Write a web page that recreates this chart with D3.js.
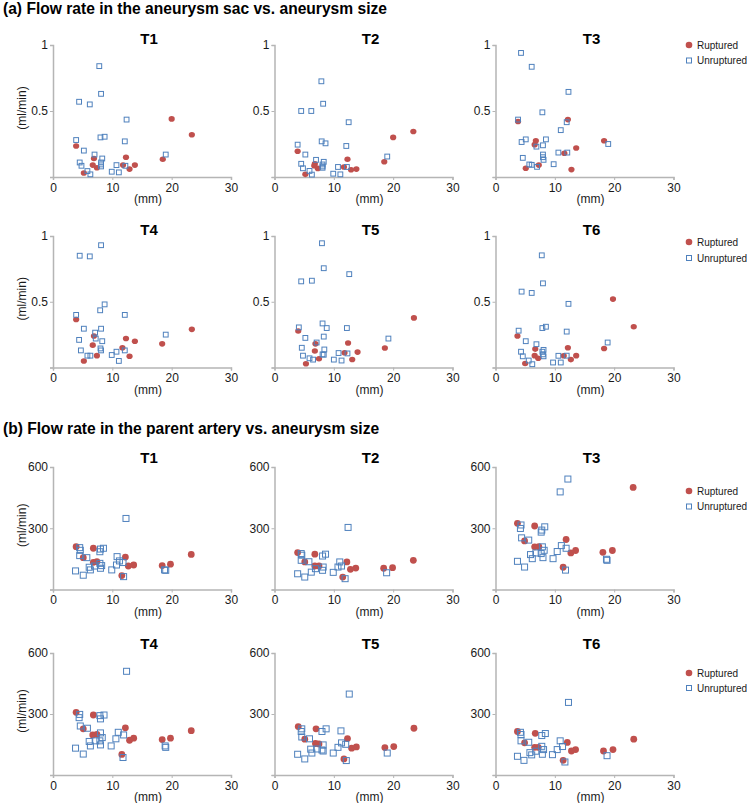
<!DOCTYPE html>
<html><head><meta charset="utf-8">
<script src="https://cdn.jsdelivr.net/npm/d3@7"></script>
<style>
html,body{margin:0;padding:0;background:#fff;}
text{font-family:"Liberation Sans",Arial,sans-serif;}
</style></head>
<body>
<svg id="chart" width="747" height="803"></svg>
<script>
// ---------- data ----------
const sectionTitles = ["(a) Flow rate in the aneurysm sac vs. aneurysm size",
                       "(b) Flow rate in the parent artery vs. aneurysm size"];
const panelNames = ["T1","T2","T3","T4","T5","T6"];
const legendLabels = ["Ruptured","Unruptured"];
const xTicks = [0,10,20,30];
const sacTicks = [0,0.5,1];
const sacTickLabels = ["", "0.5", "1"];
const arteryTicks = [0,300,600];
const arteryTickLabels = ["", "300", "600"];
const yLabel = "(ml/min)";
const xLabel = "(mm)";

// (a) aneurysm sac: [size mm, flow ml/min]
const sacT1R = [[20.0,0.44],[23.4,0.32],[3.9,0.235],[6.9,0.14],[12.3,0.15],[18.5,0.135],[6.7,0.09],[7.4,0.07],[11.8,0.09],[13.8,0.09],[12.9,0.06],[5.2,0.03]];
const sacT1U = [[7.8,0.84],[8.1,0.63],[4.4,0.57],[6.2,0.55],[12.4,0.435],[3.9,0.28],[8.0,0.30],[8.7,0.305],[12.1,0.27],[5.2,0.20],[7.0,0.17],[19.0,0.17],[8.3,0.14],[4.5,0.11],[8.1,0.11],[8.1,0.095],[4.8,0.085],[8.1,0.08],[10.7,0.09],[12.2,0.085],[5.8,0.045],[9.9,0.04],[11.1,0.035],[6.3,0.02]];
const sacT2R = [[23.4,0.345],[20.0,0.30],[3.9,0.195],[12.3,0.135],[18.5,0.115],[6.8,0.10],[6.7,0.085],[7.3,0.065],[11.7,0.076],[13.8,0.06],[12.9,0.055],[5.2,0.02]];
const sacT2U = [[7.9,0.725],[8.2,0.555],[4.5,0.50],[6.2,0.50],[12.5,0.415],[3.9,0.245],[7.95,0.27],[8.6,0.255],[12.1,0.235],[5.2,0.17],[7.0,0.13],[19.0,0.155],[8.3,0.115],[4.5,0.10],[8.1,0.095],[8.1,0.08],[4.8,0.066],[8.1,0.07],[10.7,0.076],[12.2,0.076],[5.9,0.046],[9.9,0.025],[11.1,0.02],[6.3,0.018]];
const sacT3R = [[3.8,0.42],[12.2,0.435],[6.8,0.275],[18.3,0.275],[6.6,0.245],[13.6,0.22],[11.6,0.18],[7.3,0.09],[5.1,0.066],[12.8,0.056]];
const sacT3U = [[4.3,0.94],[6.1,0.835],[12.3,0.645],[7.9,0.49],[3.8,0.435],[12.0,0.415],[11.0,0.355],[5.1,0.285],[8.5,0.285],[4.4,0.265],[19.0,0.25],[6.9,0.23],[8.0,0.24],[10.6,0.185],[12.1,0.185],[8.0,0.17],[8.0,0.15],[8.1,0.13],[4.6,0.145],[5.7,0.095],[6.1,0.092],[9.8,0.097],[7.0,0.077]];
const sacT4R = [[23.4,0.29],[3.9,0.365],[6.9,0.24],[12.3,0.22],[13.8,0.20],[18.4,0.18],[6.7,0.17],[11.7,0.15],[7.4,0.09],[12.9,0.085],[5.2,0.05]];
const sacT4U = [[8.1,0.93],[4.5,0.85],[6.2,0.845],[8.7,0.48],[7.95,0.435],[3.9,0.40],[12.1,0.40],[5.2,0.295],[8.1,0.295],[7.1,0.265],[19.0,0.25],[7.2,0.22],[4.4,0.21],[8.3,0.20],[4.7,0.13],[8.0,0.145],[8.1,0.13],[10.7,0.12],[12.1,0.13],[5.8,0.09],[6.3,0.09],[9.9,0.095],[11.1,0.05]];
const sacT5R = [[23.5,0.377],[4.0,0.277],[6.9,0.18],[12.4,0.186],[18.6,0.148],[6.8,0.125],[11.8,0.112],[14.0,0.117],[7.5,0.066],[13.1,0.061],[5.3,0.028]];
const sacT5U = [[8.0,0.945],[8.3,0.755],[12.6,0.71],[4.5,0.655],[6.3,0.66],[8.1,0.335],[8.8,0.30],[4.1,0.305],[12.2,0.30],[5.2,0.225],[8.3,0.235],[19.2,0.22],[7.1,0.19],[4.6,0.15],[8.4,0.137],[4.8,0.09],[8.1,0.10],[8.3,0.097],[10.8,0.11],[12.3,0.107],[5.9,0.07],[6.5,0.06],[10.0,0.06],[11.3,0.053]];
const sacT6R = [[19.8,0.52],[23.3,0.31],[3.7,0.24],[6.7,0.14],[12.2,0.15],[18.3,0.145],[6.6,0.09],[7.2,0.07],[11.5,0.089],[13.6,0.09],[12.7,0.06],[5.0,0.03]];
const sacT6U = [[7.8,0.853],[8.0,0.64],[4.4,0.577],[6.1,0.567],[12.3,0.484],[3.9,0.28],[8.5,0.31],[7.9,0.30],[12.0,0.273],[5.1,0.20],[18.9,0.19],[6.9,0.177],[8.1,0.134],[7.9,0.12],[8.0,0.10],[8.1,0.085],[4.3,0.12],[4.6,0.085],[10.6,0.089],[12.0,0.09],[5.6,0.053],[6.2,0.025],[9.7,0.038],[11.0,0.038]];

// (b) parent artery: [size mm, flow ml/min]
const artT1R = [[3.9,210],[6.8,202],[5.1,156],[6.8,133],[7.4,137],[12.2,159],[12.7,115],[13.6,120],[18.4,117],[19.8,124],[23.3,172],[11.6,68]];
const artT1U = [[12.3,348],[3.8,91],[5.1,70],[4.5,205],[4.6,192],[4.5,166],[5.7,156],[6.1,109],[6.3,96],[7.0,115],[7.9,185],[8.0,198],[8.5,202],[7.9,128],[8.2,117],[8.0,104],[9.9,96],[10.8,161],[11.2,140],[10.7,120],[11.8,132],[11.9,63],[18.8,96],[19.0,94]];
const artT2R = [[3.9,181],[5.1,135],[6.8,173],[6.8,115],[7.5,115],[12.2,135],[12.8,99],[13.7,105],[18.4,104],[19.9,107],[23.4,143],[11.5,61]];
const artT2U = [[12.4,304],[3.9,77],[5.1,61],[4.5,176],[4.6,168],[4.5,143],[5.8,136],[6.2,85],[6.9,102],[8.1,164],[8.6,173],[8.2,110],[8.1,94],[9.9,84],[10.7,110],[11.0,135],[11.3,115],[11.9,53],[18.9,82]];
const artT3R = [[23.2,500],[3.7,324],[6.6,311],[11.9,245],[4.9,238],[6.6,209],[7.3,210],[12.7,179],[13.5,191],[18.1,182],[19.7,191],[11.4,109]];
const artT3U = [[12.2,541],[10.9,478],[4.3,316],[4.2,299],[8.3,307],[7.8,291],[7.7,281],[4.4,253],[5.6,242],[3.7,138],[4.9,110],[5.9,171],[6.2,151],[6.8,179],[7.9,209],[8.2,192],[8.0,156],[7.7,176],[9.7,151],[10.4,186],[11.1,215],[11.9,202],[11.8,95],[18.7,148],[18.8,143]];
const artT4R = [[3.9,308],[6.8,295],[5.1,227],[6.7,197],[7.4,200],[12.2,232],[12.9,171],[13.6,181],[18.4,174],[19.8,181],[23.3,218],[11.6,101]];
const artT4U = [[12.4,510],[3.8,132],[5.1,103],[4.5,298],[4.4,282],[4.6,241],[5.8,230],[6.1,165],[6.3,143],[7.2,168],[7.9,292],[8.0,276],[8.6,295],[8.0,207],[8.3,184],[7.9,168],[8.0,148],[9.8,143],[10.6,178],[11.0,210],[11.9,197],[11.8,86],[18.9,143],[19.0,136]];
const artT5R = [[4.0,238],[7.0,227],[5.1,176],[6.9,155],[7.5,153],[12.3,179],[13.0,132],[13.8,138],[18.6,135],[20.1,140],[23.5,230],[11.7,79]];
const artT5U = [[12.6,398],[3.9,102],[5.1,79],[4.6,227],[4.5,214],[4.6,187],[5.9,178],[6.1,127],[6.3,108],[7.2,128],[8.0,214],[8.7,227],[8.2,148],[8.0,123],[8.2,118],[9.9,108],[10.7,136],[11.2,217],[11.3,158],[12.0,151],[12.1,71],[19.0,108]];
const artT6R = [[3.7,214],[6.7,205],[4.9,158],[6.6,136],[7.2,136],[12.1,160],[12.8,118],[13.5,125],[18.2,118],[19.8,125],[23.3,176],[11.4,72]];
const artT6U = [[12.3,357],[3.7,92],[4.8,72],[4.2,210],[4.3,199],[4.3,168],[5.6,161],[5.8,110],[6.1,99],[6.8,117],[7.8,194],[8.4,204],[7.8,141],[8.1,125],[7.9,102],[9.6,100],[10.4,125],[10.9,168],[11.3,140],[11.7,64],[18.8,95]];

// ---------- layout ----------
const svg = d3.select("#chart");
svg.append("rect").attr("width",747).attr("height",803).attr("fill","#fff");

const RED = "#c0504d", BLUE = "#4f81bd", AXIS = "#b5b5b5", TXT = "#1a1a1a";
const colX = [53, 274.5, 495.5];
const plotW = 178;
const rows = [
  {top:45,  bottom:177,   sec:0, yMax:1,   ticks:sacTicks, labels:sacTickLabels},
  {top:236, bottom:367.5, sec:0, yMax:1,   ticks:sacTicks, labels:sacTickLabels},
  {top:467, bottom:589.5, sec:1, yMax:600, ticks:arteryTicks, labels:arteryTickLabels},
  {top:653, bottom:775,   sec:1, yMax:600, ticks:arteryTicks, labels:arteryTickLabels}
];
const sacData = [[sacT1R,sacT1U],[sacT2R,sacT2U],[sacT3R,sacT3U],[sacT4R,sacT4U],[sacT5R,sacT5U],[sacT6R,sacT6U]];
const artData = [[artT1R,artT1U],[artT2R,artT2U],[artT3R,artT3U],[artT4R,artT4U],[artT5R,artT5U],[artT6R,artT6U]];

// section titles
svg.append("text").attr("x",3).attr("y",14).attr("font-size",15.6).attr("font-weight","bold")
   .attr("fill","#000").text(sectionTitles[0]);
svg.append("text").attr("x",3).attr("y",434).attr("font-size",15.6).attr("font-weight","bold")
   .attr("fill","#000").text(sectionTitles[1]);

rows.forEach((row, ri) => {
  const y = d3.scaleLinear().domain([0,row.yMax]).range([row.bottom,row.top]);
  const big = row.sec === 1;
  for (let ci = 0; ci < 3; ci++) {
    const pi = (ri % 2) * 3 + ci;
    const data = row.sec === 0 ? sacData[pi] : artData[pi];
    const x = d3.scaleLinear().domain([0,30]).range([colX[ci], colX[ci] + plotW]);
    const g = svg.append("g");

    // axes
    const xa = g.append("g").attr("transform",`translate(0,${row.bottom})`)
      .call(d3.axisBottom(x).tickValues(xTicks).tickSize(3).tickPadding(3).tickFormat(d3.format("d")));
    const ya = g.append("g").attr("transform",`translate(${colX[ci]},0)`)
      .call(d3.axisLeft(y).tickValues(row.ticks).tickSize(3).tickPadding(2)
            .tickFormat((d,i) => row.labels[i]));
    [xa, ya].forEach(a => {
      a.select(".domain").attr("stroke",AXIS).attr("stroke-width",1.5);
      a.selectAll(".tick line").attr("stroke",AXIS).attr("stroke-width",1);
      a.selectAll("text").attr("font-size",12).attr("fill",TXT)
        .attr("font-family","'Liberation Sans',Arial,sans-serif");
    });

    // title
    g.append("text").attr("x",colX[ci] + plotW/2 + 7).attr("y",row.top - (big?9:6) + 5)
      .attr("text-anchor","middle").attr("font-size",15).attr("font-weight","bold")
      .attr("fill","#000").text(panelNames[pi]);
    // x label
    g.append("text").attr("x",colX[ci] + plotW/2 + 6).attr("y",row.bottom + 26)
      .attr("text-anchor","middle").attr("font-size",12).attr("fill",TXT).text(xLabel);
    // y label (left column)
    if (ci === 0) {
      const cy = (row.top + row.bottom)/2 - 3;
      g.append("text").attr("transform",`translate(26,${cy}) rotate(-90)`)
        .attr("text-anchor","middle").attr("font-size",12).attr("fill",TXT).text(yLabel);
    }

    // marks
    const cr = big ? 3.4 : 3.1;
    const sq = big ? 6 : 4.8;
    g.append("g").selectAll("ellipse").data(data[0]).join("ellipse")
      .attr("cx",d => x(d[0])).attr("cy",d => y(d[1]))
      .attr("rx",cr).attr("ry",big ? cr : 2.8).attr("fill",RED);
    g.append("g").selectAll("rect").data(data[1]).join("rect")
      .attr("x",d => x(d[0]) - sq/2).attr("y",d => y(d[1]) - sq/2)
      .attr("width",sq).attr("height",sq)
      .attr("fill","none").attr("stroke",BLUE).attr("stroke-width",1);

    // legend (right column)
    if (ci === 2) {
      const ly = [row.top, row.top + 15.5];
      if (big) { ly[0] = row.top + 24; ly[1] = row.top + 39.5; }
      if (ri === 1) { ly[0] = row.top + 6; ly[1] = row.top + 22; }
      if (ri === 3) { ly[0] = row.top + 20; ly[1] = row.top + 35; }
      const lg = g.append("g");
      lg.append("circle").attr("cx",689).attr("cy",ly[0]).attr("r",3.3).attr("fill",RED);
      lg.append("rect").attr("x",686.5).attr("y",ly[1]-2.5).attr("width",5).attr("height",5)
        .attr("fill","none").attr("stroke",BLUE).attr("stroke-width",1);
      legendLabels.forEach((t,i) => {
        lg.append("text").attr("x",697).attr("y",ly[i] + 3.8).attr("font-size",10)
          .attr("fill",TXT).text(t);
      });
    }
  }
});
</script>
</body></html>
